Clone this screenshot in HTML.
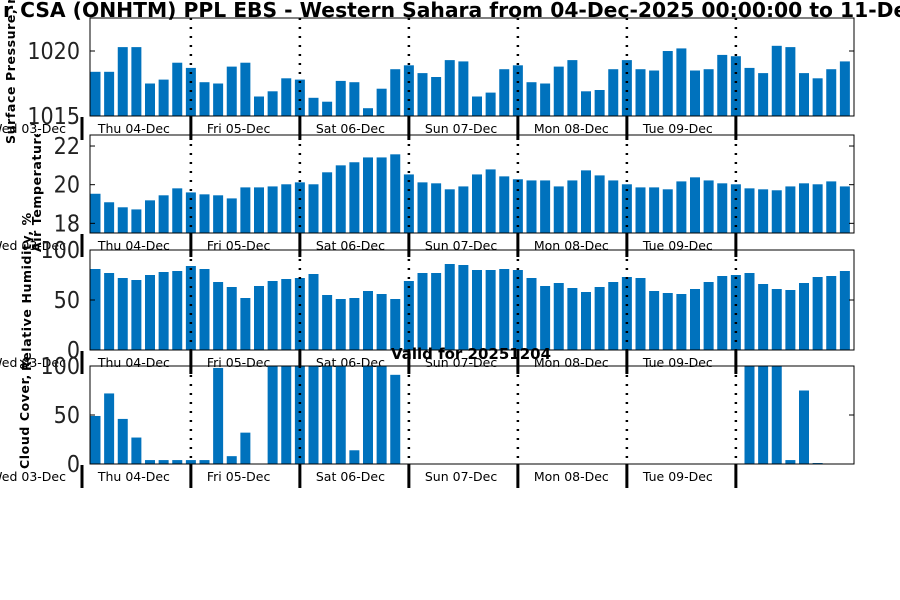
<!DOCTYPE html>
<html><head><meta charset="utf-8"><style>
html,body{margin:0;padding:0;background:#fff;}
svg{display:block;font-family:"DejaVu Sans","Liberation Sans",sans-serif;}
</style></head><body>
<svg id="chart" width="900" height="600" viewBox="0 0 900 600" xmlns="http://www.w3.org/2000/svg">
<defs><clipPath id="tclip"><rect x="0" y="134" width="90" height="130"/></clipPath></defs>
<text x="3" y="17" font-size="20.3" font-weight="bold" fill="#000">r CSA (ONHTM) PPL EBS  - Western Sahara from 04-Dec-2025 00:00:00 to 11-Dec-2025</text>
</svg>
<script>
const dayLabels = ["Thu 04-Dec","Fri 05-Dec","Sat 06-Dec","Sun 07-Dec","Mon 08-Dec","Tue 09-Dec"];
const pressure = [1018.4,1018.4,1020.3,1020.3,1017.5,1017.8,1019.1,1018.7,
1017.6,1017.5,1018.8,1019.1,1016.5,1016.9,1017.9,1017.8,
1016.4,1016.1,1017.7,1017.6,1015.6,1017.1,1018.6,1018.9,
1018.3,1018.0,1019.3,1019.2,1016.5,1016.8,1018.6,1018.9,
1017.6,1017.5,1018.8,1019.3,1016.9,1017.0,1018.6,1019.3,
1018.6,1018.5,1020.0,1020.2,1018.5,1018.6,1019.7,1019.6,
1018.7,1018.3,1020.4,1020.3,1018.3,1017.9,1018.6,1019.2];
const temperature = [19.53,19.09,18.83,18.72,19.19,19.45,19.81,19.60,
19.5,19.45,19.29,19.86,19.86,19.91,20.02,20.12,
20.02,20.64,21.0,21.16,21.41,21.41,21.57,20.53,
20.12,20.07,19.76,19.91,20.53,20.79,20.43,20.28,
20.22,20.22,19.91,20.22,20.74,20.48,20.22,20.02,
19.86,19.86,19.76,20.17,20.38,20.22,20.07,20.02,
19.81,19.76,19.71,19.91,20.07,20.02,20.17,19.91];
const humidity = [81,77,72,70,75,78,79,84,
81,68,63,52,64,69,71,72,
76,55,51,52,59,56,51,69,
77,77,86,85,80,80,81,80,
72,64,67,62,58,63,68,73,
72,59,57,56,61,68,74,75,
77,66,61,60,67,73,74,79];
const cloud = [49,72,46,27,4,4,4,4,
4,98,8,32,0,100,100,100,
100,100,100,14,100,100,91,0,
0,0,0,0,0,0,0,0,
0,0,0,0,0,0,0,0,
0,0,0,0,0,0,0,0,
100,100,100,4,75,1,0,0];
const panels = [
 {name:"pressure", data:pressure, top:18, bottom:116, min:1015, max:1022.54, ticks:[1015,1020], label:"Surface Pressure, mb", lx:15, ly:144, clip:false},
 {name:"temperature", data:temperature, top:135, bottom:233, min:17.5, max:22.57, ticks:[18,20,22], label:"Air Temperature, C", lx:41, ly:252, clip:true},
 {name:"humidity", data:humidity, top:250, bottom:350, min:0, max:100, ticks:[0,50,100], label:"Relative Humidity, %", lx:31, ly:371, clip:false},
 {name:"cloud", data:cloud, top:366, bottom:464, min:0, max:100, ticks:[0,50,100], label:"Cloud Cover, %", lx:29, ly:469, clip:false}
];
const NS="http://www.w3.org/2000/svg";
const svg=document.getElementById('chart');
const X0=90, X1=854, firstX=95.5, dx=13.625, barW=10;
function xPos(i){return firstX+i*dx;}
function mk(tag,attrs,parent){const e=document.createElementNS(NS,tag);for(const k in attrs)e.setAttribute(k,attrs[k]);(parent||svg).appendChild(e);return e;}
panels.forEach((p,pi)=>{
  const g=mk('g',{});
  
  
  const y=v=>p.bottom-(v-p.min)/(p.max-p.min)*(p.bottom-p.top);
  p.data.forEach((v,i)=>{
    if(v<=p.min) return;
    const yt=Math.max(y(v),p.top);
    const r=mk('rect',{x:xPos(i)-barW/2,y:yt,width:barW,height:p.bottom-yt,fill:'#0072bd'},g);
    
    
  });
  for(let d=0;d<6;d++){
    const lx=xPos(7+8*d);
    const l=mk('line',{x1:lx,x2:lx,y1:p.top,y2:p.bottom,stroke:'#000','stroke-width':2.5,'stroke-dasharray':'2,7'},g);
    
    
  }
  const box=mk('rect',{x:X0,y:p.top,width:X1-X0,height:p.bottom-p.top,fill:'none',stroke:'#000','stroke-width':1},g);
  
  
  p.ticks.forEach(t=>{
    const ty=y(t);
    mk('line',{x1:X0,x2:X0+5,y1:ty,y2:ty,stroke:'#000'},g);
    mk('line',{x1:X1-5,x2:X1,y1:ty,y2:ty,stroke:'#000'},g);
    const tl=mk('text',{x:80,y:ty+8,'font-size':23,'text-anchor':'end',fill:'#222','font-family':'"DejaVu Sans Condensed","Liberation Sans Narrow","DejaVu Sans",sans-serif'},g);
    tl.textContent=t;
    
    
  });
  const wl=mk('text',{x:66,y:p.bottom+17,'font-size':12.5,'text-anchor':'end',fill:'#000'},g);
  wl.textContent="Wed 03-Dec";
  
  
  mk('rect',{x:80.5,y:p.bottom+1,width:3,height:23,fill:'#000'},g);
  dayLabels.forEach((lab,d)=>{
    const lx=xPos(7+8*d);
    const t=mk('text',{x:lx-93,y:p.bottom+17,'font-size':12.5,fill:'#000'},g);
    t.textContent=lab;
    
    
    mk('rect',{x:lx-1.5,y:p.bottom,width:3,height:24,fill:'#000'},g);
  });
  const attrs={x:0,y:0,'font-size':12.5,'font-weight':'bold','text-anchor':'start',transform:`translate(${p.lx},${p.ly}) rotate(-90)`,fill:'#000','letter-spacing':'0.6'};
  const holder=p.clip?mk('g',{'clip-path':'url(#tclip)'},g):g;
  const yl=mk('text',attrs,holder);
  yl.textContent=p.label;
  
  
});
const vt=mk('text',{x:471,y:359,'font-size':15,'font-weight':'bold','text-anchor':'middle',fill:'#000'});
vt.textContent="Valid for 20251204";


</script>
</body></html>
